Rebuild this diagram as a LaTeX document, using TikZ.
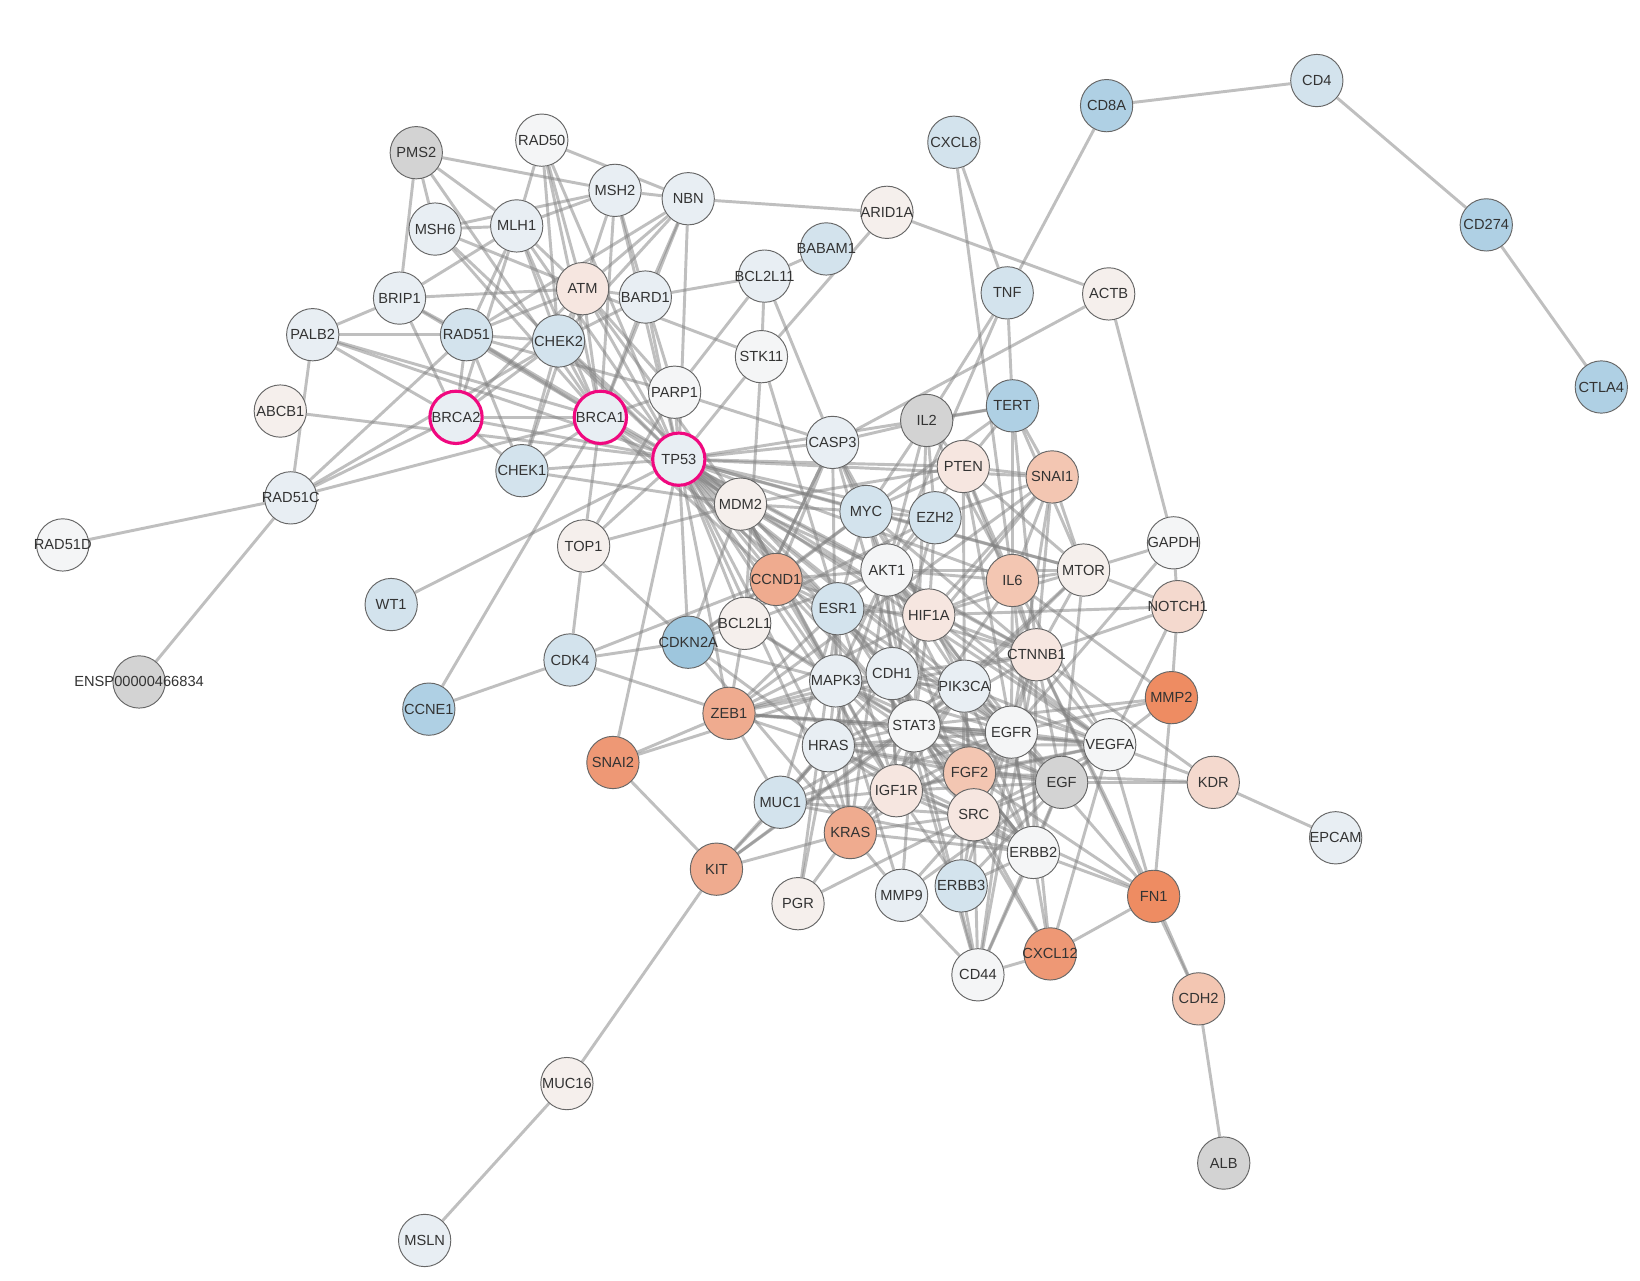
\documentclass[tikz,border=0pt]{standalone}
\usepackage{fontspec}
\setmainfont{Liberation Sans}
\usepackage{tikz}
\usetikzlibrary{backgrounds}

\definecolor{gy}{HTML}{D3D3D3}
\definecolor{wh}{HTML}{F4F5F6}
\definecolor{vb}{HTML}{E8EEF3}
\definecolor{lb}{HTML}{D3E3ED}
\definecolor{bl}{HTML}{AFD0E4}
\definecolor{bk}{HTML}{9EC6DD}
\definecolor{p0}{HTML}{F5EFEC}
\definecolor{p1}{HTML}{F6E6E0}
\definecolor{p2}{HTML}{F4D9CE}
\definecolor{s0}{HTML}{F3C6B2}
\definecolor{s1}{HTML}{EFAB8F}
\definecolor{s2}{HTML}{EE9875}
\definecolor{s3}{HTML}{EE8C62}
\definecolor{hit}{HTML}{F0087F}

\begin{document}
\begin{tikzpicture}[
x=1pt,y=-1pt,
gene/.style={circle,draw=black!60,line width=0.9pt,minimum size=50pt,inner sep=0pt,
  font=\fontsize{14}{14}\selectfont,text=black!80},
seed/.style={gene,draw=hit,line width=3pt,fill=vb},
edge/.style={draw=gray,line width=2.8pt,opacity=.5}
]
\useasboundingbox (0,0) rectangle (1568,1224);

% proteins
\foreach \n/\x/\y/\c in {
  PMS2/398/146/gy, RAD50/518/134/wh, MSH2/588/182/vb, NBN/658/190/vb,
  MSH6/416/219/vb, MLH1/494/216/vb, ATM/557/276/p1, BARD1/617/284/vb,
  BCL2L11/731/264/vb, BABAM1/790/238/lb, ARID1A/848/203/p0, CXCL8/912/136/lb,
  CD8A/1058/101/bl, CD4/1259/77/lb, CD274/1421/215/bl, CTLA4/1531/370/bl,
  BRIP1/382/285/vb, PALB2/299/320/vb, RAD51/446/320/lb, CHEK2/534/326/lb,
  STK11/728/341/wh, TNF/963/280/lb, ACTB/1060/281/p0, PARP1/645/375/wh,
  ABCB1/268/393/p0, CHEK1/499/450/lb, CASP3/796/423/vb, IL2/886/402/gy,
  TERT/968/388/bl, PTEN/921/446/p1, SNAI1/1006/456/s0, RAD51C/278/476/vb,
  RAD51D/60/521/wh, MDM2/708/482/p0, MYC/828/489/lb, EZH2/894/495/lb,
  TOP1/558/522/p0, GAPDH/1122/519/wh, AKT1/848/545/wh, IL6/968/555/s0,
  MTOR/1036/545/p0, CCND1/742/554/s1, WT1/374/578/lb, BCL2L1/712/596/p0,
  ESR1/801/582/lb, HIF1A/888/588/p1, NOTCH1/1126/580/p2, CDKN2A/658/614/bk,
  CDK4/545/631/lb, CTNNB1/991/626/p1, ENSP00000466834/133/652/gy,
  MAPK3/799/651/vb, CDH1/853/644/vb, PIK3CA/922/656/vb, MMP2/1120/667/s3,
  CCNE1/410/678/bl, ZEB1/697/682/s1, STAT3/874/694/wh, EGFR/967/700/wh,
  VEGFA/1061/712/wh, HRAS/792/713/vb, SNAI2/586/729/s2, FGF2/927/739/s0,
  EGF/1015/748/gy, KDR/1160/748/p2, IGF1R/857/756/p1, MUC1/746/767/lb,
  SRC/931/779/p1, KRAS/813/796/s1, EPCAM/1277/801/vb, ERBB2/988/815/wh,
  KIT/685/831/s1, MMP9/862/856/vb, ERBB3/919/847/lb, PGR/763/864/p0,
  FN1/1103/857/s3, CXCL12/1004/912/s2, CD44/935/932/wh, CDH2/1146/955/s0,
  MUC16/542/1036/p0, ALB/1170/1112/gy, MSLN/406/1186/vb}
  \node[gene,fill=\c] (\n) at (\x,\y) {\makebox[0pt]{\n}};

% query proteins
\node[seed] (BRCA2) at (436,399) {\makebox[0pt]{BRCA2}};
\node[seed] (BRCA1) at (574,399) {\makebox[0pt]{BRCA1}};
\node[seed] (TP53) at (649,439) {\makebox[0pt]{TP53}};

% interactions
\begin{scope}[on background layer]
\fill[white] (0,0) rectangle (1568,1224);
\foreach \a/\b in {
  PMS2/MSH2, PMS2/MSH6, PMS2/MLH1, PMS2/BRIP1, PMS2/BRCA1,
  RAD50/NBN, RAD50/MLH1, RAD50/ATM, RAD50/BRCA1, RAD50/CHEK2, RAD50/TP53,
  MSH2/MSH6, MSH2/MLH1, MSH2/NBN, MSH2/ATM, MSH2/BARD1, MSH2/BRCA1, MSH2/TP53,
  MSH6/MLH1, MSH6/ATM, MSH6/BRCA1, MSH6/TP53,
  MLH1/BRIP1, MLH1/RAD51, MLH1/CHEK2, MLH1/ATM, MLH1/BRCA1, MLH1/TP53, MLH1/BRCA2,
  NBN/ATM, NBN/BRCA1, NBN/CHEK2, NBN/TP53, NBN/ARID1A, NBN/RAD51, NBN/BARD1,
  BRIP1/ATM, BRIP1/PALB2, BRIP1/RAD51, BRIP1/BRCA1, BRIP1/BRCA2,
  PALB2/RAD51, PALB2/BRCA2, PALB2/BRCA1, PALB2/RAD51C, PALB2/TP53,
  RAD51/CHEK2, RAD51/BRCA2, RAD51/BRCA1, RAD51/CHEK1, RAD51/ATM, RAD51/TP53,
  RAD51/RAD51C, RAD51/PARP1,
  ATM/BARD1, ATM/CHEK2, ATM/BRCA1, ATM/TP53, ATM/CHEK1, ATM/BRCA2, ATM/MDM2,
  ATM/PARP1, ATM/STK11,
  BARD1/BRCA1, BARD1/TP53, BARD1/CHEK2, BARD1/PARP1, BARD1/BCL2L11,
  CHEK2/BRCA1, CHEK2/TP53, CHEK2/BRCA2, CHEK2/CHEK1, CHEK2/MDM2, CHEK2/RAD51C,
  ABCB1/TP53,
  BRCA2/BRCA1, BRCA2/TP53, BRCA2/CHEK1, BRCA2/RAD51C,
  BRCA1/TP53, BRCA1/CHEK1, BRCA1/RAD51C, BRCA1/TOP1, BRCA1/PARP1, BRCA1/MDM2,
  BRCA1/ESR1, BRCA1/CCND1, BRCA1/CCNE1,
  CHEK1/TP53, CHEK1/MDM2, WT1/TP53,
  RAD51C/RAD51D, RAD51C/ENSP00000466834,
  TOP1/TP53, TOP1/CDK4, TOP1/CDKN2A, TOP1/PARP1, TOP1/MDM2,
  PARP1/TP53, PARP1/CASP3, PARP1/BCL2L11,
  STK11/TP53, STK11/BCL2L11, STK11/BCL2L1, STK11/ESR1, ARID1A/STK11, ARID1A/ACTB,
  BABAM1/BCL2L11, BCL2L11/CASP3,
  CDK4/CCNE1, CDK4/CDKN2A, CDK4/HRAS, CDK4/CCND1,
  SNAI2/ZEB1, SNAI2/KIT, SNAI2/TP53,
  KIT/MUC16, KIT/MUC1, KIT/HRAS, KIT/STAT3, KIT/KRAS, KIT/PIK3CA,
  MUC16/MSLN,
  CD8A/CD4, CD4/CD274, CD274/CTLA4, CD8A/TNF, CXCL8/TNF, CXCL8/IL6,
  TNF/TERT, TNF/IL2, TNF/AKT1,
  IL2/TERT, IL2/CASP3, IL2/STAT3, IL2/AKT1, IL2/IL6, IL2/MYC, IL2/PTEN,
  ACTB/CASP3, ACTB/GAPDH,
  TERT/PTEN, TERT/SNAI1, TERT/MYC, TERT/CTNNB1, TERT/MTOR, TERT/TP53, TERT/IL6,
  TP53/MDM2, TP53/MYC, TP53/AKT1, TP53/CASP3, TP53/PTEN, TP53/EZH2, TP53/CCND1,
  TP53/CDKN2A, TP53/BCL2L1, TP53/ESR1, TP53/MAPK3, TP53/CDH1, TP53/STAT3,
  TP53/HIF1A, TP53/IL6, TP53/PIK3CA, TP53/HRAS, TP53/EGFR, TP53/SNAI1, TP53/KRAS,
  TP53/CTNNB1, TP53/MTOR, TP53/VEGFA, TP53/ZEB1, TP53/IGF1R,
  MDM2/CDKN2A, MDM2/AKT1, MDM2/MYC, MDM2/CCND1, MDM2/ESR1, MDM2/HIF1A,
  MDM2/MAPK3, MDM2/IGF1R, MDM2/PTEN,
  MYC/AKT1, MYC/CCND1, MYC/EZH2, MYC/CDKN2A, MYC/ESR1, MYC/HIF1A, MYC/STAT3,
  MYC/CTNNB1, MYC/MTOR, MYC/PTEN, MYC/CASP3,
  EZH2/AKT1, EZH2/HIF1A, EZH2/CDKN2A, EZH2/CDH1, EZH2/SNAI1, EZH2/IL2,
  AKT1/MTOR, AKT1/PTEN, AKT1/HIF1A, AKT1/ESR1, AKT1/CCND1, AKT1/MAPK3,
  AKT1/PIK3CA, AKT1/STAT3, AKT1/EGFR, AKT1/IL6, AKT1/CTNNB1, AKT1/IGF1R,
  AKT1/SRC, AKT1/VEGFA, AKT1/KRAS, AKT1/HRAS, AKT1/CASP3, AKT1/BCL2L1,
  AKT1/ERBB2, AKT1/EGF,
  IL6/STAT3, IL6/HIF1A, IL6/EGFR, IL6/VEGFA, IL6/CTNNB1, IL6/PTEN, IL6/SNAI1,
  IL6/CXCL12, IL6/MTOR, IL6/MMP2,
  CCND1/ESR1, CCND1/CDKN2A, CCND1/BCL2L1, CCND1/CTNNB1, CCND1/MAPK3,
  CCND1/STAT3, CCND1/EGFR,
  BCL2L1/STAT3, BCL2L1/MAPK3, BCL2L1/CASP3, BCL2L1/CDKN2A, BCL2L1/ZEB1,
  ESR1/MAPK3, ESR1/EGFR, ESR1/CDH1, ESR1/IGF1R, ESR1/PGR, ESR1/ERBB2,
  ESR1/HIF1A, ESR1/SRC, ESR1/ZEB1, ESR1/KRAS,
  HIF1A/VEGFA, HIF1A/STAT3, HIF1A/MTOR, HIF1A/EGFR, HIF1A/PIK3CA, HIF1A/CTNNB1,
  HIF1A/SNAI1, HIF1A/NOTCH1, HIF1A/ZEB1,
  CTNNB1/CDH1, CTNNB1/SNAI1, CTNNB1/EGFR, CTNNB1/VEGFA, CTNNB1/CD44, CTNNB1/SRC,
  CTNNB1/ERBB2, CTNNB1/FN1, CTNNB1/EGF, CTNNB1/STAT3, CTNNB1/ZEB1, CTNNB1/KDR,
  CTNNB1/NOTCH1, CTNNB1/MTOR,
  MAPK3/CDH1, MAPK3/HRAS, MAPK3/STAT3, MAPK3/EGFR, MAPK3/KRAS, MAPK3/SRC,
  MAPK3/PIK3CA, MAPK3/IGF1R, MAPK3/ZEB1, MAPK3/MMP9, MAPK3/FGF2, MAPK3/EGF,
  MAPK3/CDKN2A,
  CDH1/PIK3CA, CDH1/STAT3, CDH1/SNAI1, CDH1/ZEB1, CDH1/EGFR, CDH1/SRC, CDH1/CD44,
  CDH1/ERBB2, CDH1/MUC1, CDH1/VEGFA, CDH1/SNAI2, CDH1/IGF1R,
  PIK3CA/EGFR, PIK3CA/STAT3, PIK3CA/KRAS, PIK3CA/HRAS, PIK3CA/ERBB2, PIK3CA/ERBB3,
  PIK3CA/PTEN, PIK3CA/MTOR, PIK3CA/IGF1R, PIK3CA/FGF2, PIK3CA/EGF, PIK3CA/VEGFA,
  PIK3CA/SRC,
  STAT3/EGFR, STAT3/SRC, STAT3/HRAS, STAT3/IGF1R, STAT3/FGF2, STAT3/EGF,
  STAT3/VEGFA, STAT3/ERBB2, STAT3/MUC1, STAT3/KRAS, STAT3/CD44, STAT3/MMP9,
  STAT3/ZEB1, STAT3/MMP2, STAT3/CXCL12,
  EGFR/SRC, EGFR/EGF, EGFR/ERBB2, EGFR/ERBB3, EGFR/VEGFA, EGFR/FGF2, EGFR/HRAS,
  EGFR/KRAS, EGFR/IGF1R, EGFR/MUC1, EGFR/CD44, EGFR/FN1, EGFR/MMP2, EGFR/CXCL12,
  EGFR/GAPDH,
  VEGFA/EGF, VEGFA/FGF2, VEGFA/SRC, VEGFA/KDR, VEGFA/FN1, VEGFA/MMP2, VEGFA/MMP9,
  VEGFA/IGF1R, VEGFA/HRAS, VEGFA/CXCL12, VEGFA/NOTCH1,
  HRAS/KRAS, HRAS/EGF, HRAS/SRC, HRAS/IGF1R, HRAS/FGF2, HRAS/ERBB2, HRAS/MUC1,
  HRAS/PGR,
  FGF2/EGF, FGF2/SRC, FGF2/IGF1R, FGF2/KDR, FGF2/FN1, FGF2/ERBB2,
  EGF/SRC, EGF/ERBB2, EGF/ERBB3, EGF/IGF1R, EGF/KDR, EGF/CD44, EGF/MTOR,
  IGF1R/SRC, IGF1R/ERBB2, IGF1R/ERBB3, IGF1R/KRAS, IGF1R/MUC1,
  SRC/ERBB2, SRC/ERBB3, SRC/KRAS, SRC/CD44, SRC/MMP9, SRC/CXCL12, SRC/FN1, SRC/PGR,
  ERBB2/ERBB3, ERBB2/FN1, ERBB2/CD44, ERBB2/MUC1, ERBB2/KRAS,
  ERBB3/CD44, MMP9/CD44, MMP9/KRAS, CXCL12/CD44, CXCL12/FN1,
  FN1/MMP2, FN1/CDH2, CDH2/ALB, CDH2/CTNNB1,
  MTOR/NOTCH1, MTOR/GAPDH, MTOR/PTEN, MTOR/STAT3,
  NOTCH1/GAPDH, NOTCH1/MMP2, KDR/EPCAM,
  MUC1/ZEB1, MUC1/ESR1, MUC1/SRC, KRAS/PGR,
  PTEN/SNAI1, PTEN/EGFR, PTEN/CTNNB1,
  CASP3/BCL2L1, CASP3/MAPK3, CASP3/CCND1, CASP3/HIF1A, CASP3/STAT3,
  SNAI1/ZEB1, SNAI1/EGFR, SNAI1/MTOR, ZEB1/EGFR, ZEB1/VEGFA,
  CDKN2A/HRAS, CDKN2A/KRAS}
  \draw[edge] (\a) -- (\b);
\end{scope}
\end{tikzpicture}
\end{document}
